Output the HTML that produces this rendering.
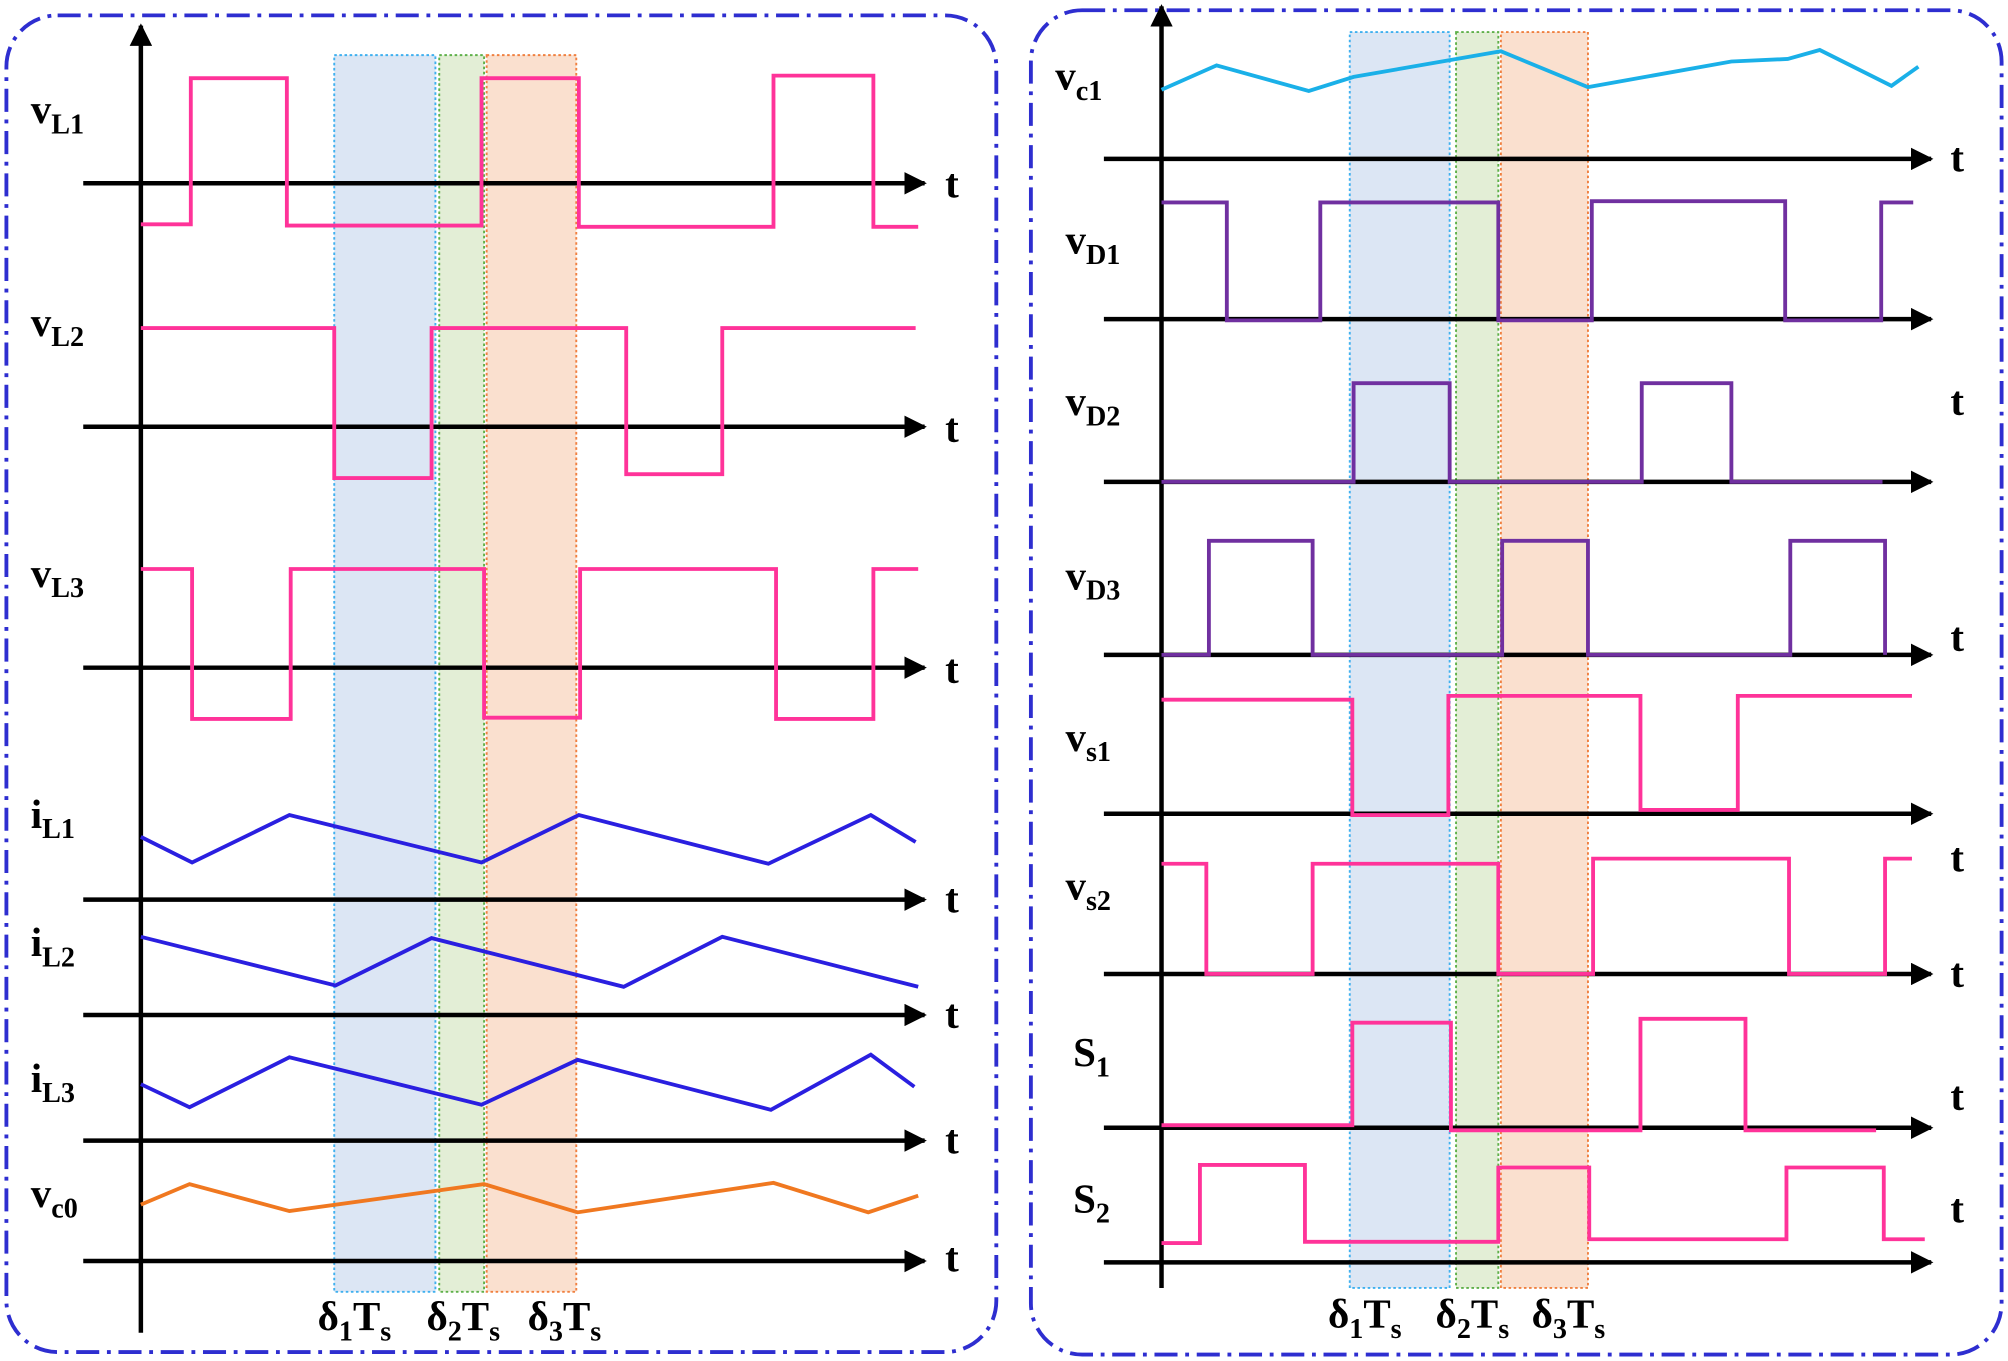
<!DOCTYPE html>
<html><head><meta charset="utf-8"><style>
html,body{margin:0;padding:0;background:#fff;}
svg{display:block;}
text{font-family:"Liberation Serif",serif;font-weight:bold;fill:#000;}
</style></head><body>
<svg width="2008" height="1361" viewBox="0 0 1568 1062" preserveAspectRatio="none" xmlns="http://www.w3.org/2000/svg">
<defs>
<marker id="ar" viewBox="0 0 10 10" refX="9" refY="5" markerWidth="5" markerHeight="5" orient="auto"><path d="M0,0 L10,5 L0,10 z" fill="#000"/></marker>
</defs>
<rect width="1568" height="1062" fill="#fff"/>
<rect x="5" y="12" width="773" height="1043" rx="40" fill="none" stroke="#2e2ed0" stroke-width="3" stroke-dasharray="18,6,3,6"/>
<rect x="805" y="8" width="758" height="1049" rx="40" fill="none" stroke="#2e2ed0" stroke-width="3" stroke-dasharray="18,6,3,6"/>
<rect x="261" y="43" width="79" height="965" fill="#dce6f4" stroke="#3fb0ef" stroke-width="1.5" stroke-dasharray="2,2"/>
<rect x="343" y="43" width="35" height="965" fill="#e3eed6" stroke="#5fb04a" stroke-width="1.5" stroke-dasharray="2,2"/>
<rect x="380" y="43" width="70" height="965" fill="#fae0cf" stroke="#f08040" stroke-width="1.5" stroke-dasharray="2,2"/>
<rect x="1054" y="25" width="78" height="980" fill="#dce6f4" stroke="#3fb0ef" stroke-width="1.5" stroke-dasharray="2,2"/>
<rect x="1137" y="25" width="33" height="980" fill="#e3eed6" stroke="#5fb04a" stroke-width="1.5" stroke-dasharray="2,2"/>
<rect x="1172" y="25" width="68" height="980" fill="#fae0cf" stroke="#f08040" stroke-width="1.5" stroke-dasharray="2,2"/>
<g stroke="#000" stroke-width="3.5" fill="none">
<line x1="110" y1="1040" x2="110" y2="20" marker-end="url(#ar)"/>
<line x1="65" y1="143" x2="722" y2="143" marker-end="url(#ar)"/>
<line x1="65" y1="333" x2="722" y2="333" marker-end="url(#ar)"/>
<line x1="65" y1="521" x2="722" y2="521" marker-end="url(#ar)"/>
<line x1="65" y1="702" x2="722" y2="702" marker-end="url(#ar)"/>
<line x1="65" y1="792" x2="722" y2="792" marker-end="url(#ar)"/>
<line x1="65" y1="890" x2="722" y2="890" marker-end="url(#ar)"/>
<line x1="65" y1="984" x2="722" y2="984" marker-end="url(#ar)"/>
<line x1="907" y1="1005" x2="907" y2="5" marker-end="url(#ar)"/>
<line x1="862" y1="124" x2="1508" y2="124" marker-end="url(#ar)"/>
<line x1="862" y1="249" x2="1508" y2="249" marker-end="url(#ar)"/>
<line x1="862" y1="376" x2="1508" y2="376" marker-end="url(#ar)"/>
<line x1="862" y1="511" x2="1508" y2="511" marker-end="url(#ar)"/>
<line x1="862" y1="635" x2="1508" y2="635" marker-end="url(#ar)"/>
<line x1="862" y1="760" x2="1508" y2="760" marker-end="url(#ar)"/>
<line x1="862" y1="880" x2="1508" y2="880" marker-end="url(#ar)"/>
<line x1="862" y1="985" x2="1508" y2="985" marker-end="url(#ar)"/>
</g>
<g fill="none" stroke-width="3" stroke-linejoin="miter">
<polyline stroke="#ff3399" points="110,175 149,175 149,61 224,61 224,176 376,176 376,61 452,61 452,177 604,177 604,59 682,59 682,177 717,177"/>
<polyline stroke="#ff3399" points="110,256 261,256 261,373 337,373 337,256 489,256 489,370 564,370 564,256 715,256"/>
<polyline stroke="#ff3399" points="110,444 150,444 150,561 227,561 227,444 378,444 378,560 453,560 453,444 606,444 606,561 682,561 682,444 717,444"/>
<polyline stroke="#2a1fe0" points="110,653 150,673 226,636 376,673 452,636 600,674 680,636 715,657"/>
<polyline stroke="#2a1fe0" points="110,731 262,769 337,732 487,770 564,731 717,770"/>
<polyline stroke="#2a1fe0" points="110,846 148,864 226,825 376,862 451,827 602,866 680,823 714,848"/>
<polyline stroke="#f07820" points="110,940 148,924 226,945 378,924 451,946 604,923 678,946 717,933"/>
<polyline stroke="#1ab0e8" points="907,70 950,51 1022,71 1057,60 1172,40 1240,68 1352,48 1396,46 1421,39 1477,67 1498,52"/>
<polyline stroke="#7030a0" points="907,158 958,158 958,250 1031,250 1031,158 1170,158 1170,250 1243,250 1243,157 1394,157 1394,250 1469,250 1469,158 1494,158"/>
<polyline stroke="#7030a0" points="907,376 1057,376 1057,299 1132,299 1132,376 1282,376 1282,299 1352,299 1352,376 1470,376"/>
<polyline stroke="#7030a0" points="907,511 944,511 944,422 1025,422 1025,511 1173,511 1173,422 1240,422 1240,511 1398,511 1398,422 1472,422 1472,511"/>
<polyline stroke="#ff3399" points="907,546 1056,546 1056,636 1131,636 1131,543 1281,543 1281,632 1357,632 1357,543 1493,543"/>
<polyline stroke="#ff3399" points="907,674 942,674 942,760 1025,760 1025,674 1170,674 1170,760 1244,760 1244,670 1397,670 1397,760 1472,760 1472,670 1493,670"/>
<polyline stroke="#ff3399" points="907,878 1056,878 1056,798 1133,798 1133,882 1281,882 1281,795 1363,795 1363,882 1465,882"/>
<polyline stroke="#ff3399" points="907,970 937,970 937,909 1019,909 1019,969 1170,969 1170,911 1241,911 1241,967 1395,967 1395,911 1471,911 1471,967 1503,967"/>
</g>
<g font-size="32">
<text x="24" y="96">v<tspan font-size="22" dy="8">L1</tspan></text>
<text x="24" y="262">v<tspan font-size="22" dy="8">L2</tspan></text>
<text x="24" y="458">v<tspan font-size="22" dy="8">L3</tspan></text>
<text x="24" y="646">i<tspan font-size="22" dy="8">L1</tspan></text>
<text x="24" y="746">i<tspan font-size="22" dy="8">L2</tspan></text>
<text x="24" y="852">i<tspan font-size="22" dy="8">L3</tspan></text>
<text x="24" y="942">v<tspan font-size="22" dy="8">c0</tspan></text>
<text x="738" y="154">t</text><text x="738" y="345">t</text><text x="738" y="533">t</text>
<text x="738" y="712">t</text><text x="738" y="802">t</text><text x="738" y="900">t</text><text x="738" y="992">t</text>
<text x="824" y="70">v<tspan font-size="22" dy="8">c1</tspan></text>
<text x="832" y="198">v<tspan font-size="22" dy="8">D1</tspan></text>
<text x="832" y="324">v<tspan font-size="22" dy="8">D2</tspan></text>
<text x="832" y="460">v<tspan font-size="22" dy="8">D3</tspan></text>
<text x="832" y="586">v<tspan font-size="22" dy="8">s1</tspan></text>
<text x="832" y="702">v<tspan font-size="22" dy="8">s2</tspan></text>
<text x="838" y="832">S<tspan font-size="22" dy="8">1</tspan></text>
<text x="838" y="946">S<tspan font-size="22" dy="8">2</tspan></text>
<text x="1523" y="134">t</text><text x="1523" y="324">t</text><text x="1523" y="508">t</text>
<text x="1523" y="680">t</text><text x="1523" y="770">t</text><text x="1523" y="866">t</text><text x="1523" y="954">t</text>
<text x="248" y="1038">δ<tspan font-size="22" dy="8">1</tspan><tspan dy="-8">T</tspan><tspan font-size="22" dy="8">s</tspan></text>
<text x="333" y="1038">δ<tspan font-size="22" dy="8">2</tspan><tspan dy="-8">T</tspan><tspan font-size="22" dy="8">s</tspan></text>
<text x="412" y="1038">δ<tspan font-size="22" dy="8">3</tspan><tspan dy="-8">T</tspan><tspan font-size="22" dy="8">s</tspan></text>
<text x="1037" y="1036">δ<tspan font-size="22" dy="8">1</tspan><tspan dy="-8">T</tspan><tspan font-size="22" dy="8">s</tspan></text>
<text x="1121" y="1036">δ<tspan font-size="22" dy="8">2</tspan><tspan dy="-8">T</tspan><tspan font-size="22" dy="8">s</tspan></text>
<text x="1196" y="1036">δ<tspan font-size="22" dy="8">3</tspan><tspan dy="-8">T</tspan><tspan font-size="22" dy="8">s</tspan></text>
</g>
</svg>
</body></html>
